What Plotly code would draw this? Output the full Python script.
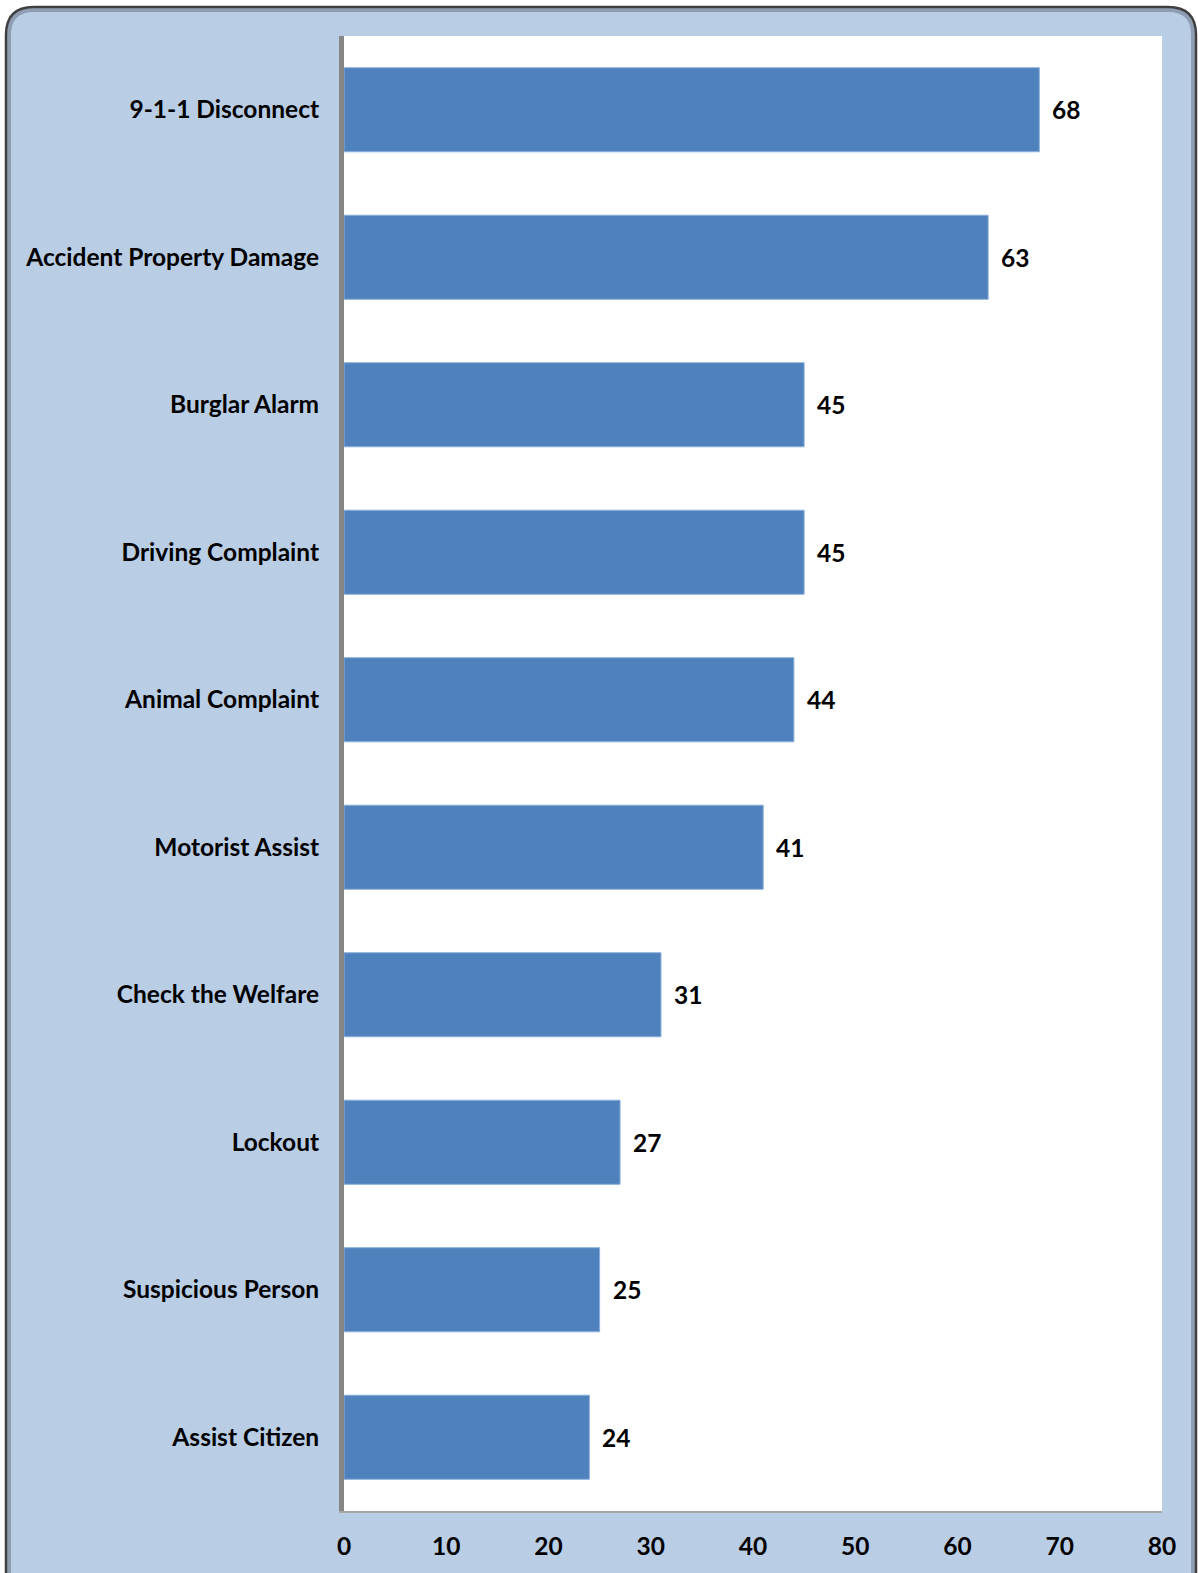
import plotly.graph_objects as go

categories = ["9-1-1 Disconnect", "Accident Property Damage", "Burglar Alarm",
              "Driving Complaint", "Animal Complaint", "Motorist Assist",
              "Check the Welfare", "Lockout", "Suspicious Person", "Assist Citizen"]
values = [68, 63, 45, 45, 44, 41, 31, 27, 25, 24]
x_ticks = [0, 10, 20, 30, 40, 50, 60, 70, 80]

W, H = 1198, 1573
L, R, T, B = 344, 36, 36, 62
PW, PH = W - L - R, H - T - B

def px(x):
    return (x - L) / PW

def py(y):
    return (H - B - y) / PH

def rounded_path(x0, y0, x1, y1, r):
    return (f"M {px(x0 + r)},{py(y0)} L {px(x1 - r)},{py(y0)} "
            f"Q {px(x1)},{py(y0)} {px(x1)},{py(y0 + r)} "
            f"L {px(x1)},{py(y1 - r)} Q {px(x1)},{py(y1)} {px(x1 - r)},{py(y1)} "
            f"L {px(x0 + r)},{py(y1)} Q {px(x0)},{py(y1)} {px(x0)},{py(y1 - r)} "
            f"L {px(x0)},{py(y0 + r)} Q {px(x0)},{py(y0)} {px(x0 + r)},{py(y0)} Z")

font_family = "Lato, Calibri, Carlito, sans-serif"
FS = 24.5

fig = go.Figure(go.Bar(
    x=values, y=categories, orientation="h",
    marker=dict(color="#4F81BD", line=dict(color="#8DB0DC", width=1)),
    hoverinfo="x+y",
))

for c, v in zip(categories, values):
    fig.add_annotation(x=v, y=c, text=f"<b>{v}</b>", showarrow=False,
                       xanchor="left", xshift=11,
                       font=dict(family=font_family, size=FS, color="black"))

fig.add_shape(type="path", xref="paper", yref="paper", layer="below",
              path=rounded_path(6, 7, 1196, 1600, 28),
              fillcolor="#B9CDE5", line=dict(color="#3F3F3F", width=2.5))
fig.add_shape(type="path", xref="paper", yref="paper", layer="below",
              path=rounded_path(9, 10, 1193, 1597, 25),
              fillcolor="rgba(0,0,0,0)", line=dict(color="rgba(90,100,115,0.45)", width=4))
fig.add_shape(type="rect", xref="paper", yref="paper", layer="below",
              x0=0, x1=1, y0=0, y1=1, fillcolor="white", line=dict(width=0))

fig.update_layout(
    width=W, height=H,
    margin=dict(l=L, r=R, t=T, b=B),
    paper_bgcolor="white", plot_bgcolor="rgba(0,0,0,0)",
    bargap=0.43, showlegend=False,
    font=dict(family=font_family, size=FS, color="black"),
)
fig.update_xaxes(range=[0, 80], tickvals=x_ticks, ticktext=[f"<b>{t}</b>" for t in x_ticks],
                 showgrid=False, zeroline=False, showline=True, linecolor="#A6A6A6", linewidth=2,
                 ticks="", ticklabelstandoff=13, tickfont=dict(size=FS))
fig.update_yaxes(autorange="reversed", tickvals=categories,
                 ticktext=[f"<b>{c}</b>" for c in categories],
                 showgrid=False, zeroline=False, showline=True, linecolor="#868686", linewidth=5,
                 ticks="", ticklabelstandoff=15, tickfont=dict(size=FS))

fig.write_html("out.html", config={"displayModeBar": False},
               post_script="document.body.style.margin='0px';document.body.style.overflow='hidden';")
